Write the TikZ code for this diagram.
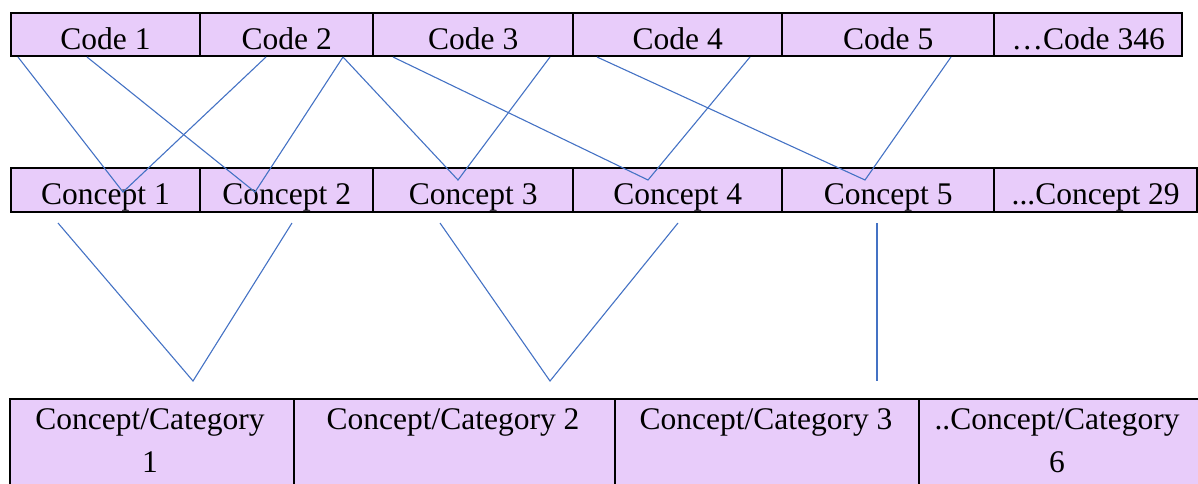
\documentclass[tikz,border=0pt]{standalone}
\usepackage{fontspec}
\setmainfont{Liberation Serif}
\definecolor{cellfill}{RGB}{232,204,250}
\definecolor{linkblue}{RGB}{68,114,196}
\begin{document}
\begin{tikzpicture}[x=1pt,y=-1pt,
  cell/.style={draw=black, line width=2.4pt, fill=cellfill, inner sep=0pt,
    anchor=north west, font=\fontsize{31.5}{43}\selectfont},
  rowa/.style={cell, minimum height=43, text height=36, text depth=7},
  rowb/.style={cell, minimum height=44, text height=36, text depth=8},
  rowc/.style={cell, minimum height=95},
  txt/.style={inner sep=0pt, anchor=north, align=center, font=\fontsize{31.5}{43}\selectfont},
  link/.style={draw=linkblue, line width=1.1pt}]
\useasboundingbox (0,0) rectangle (1198,483);
% row 1: codes
\node[rowa, minimum width=189.5] (code1) at (9.5,12) {Code 1};
\node[rowa, minimum width=173] (code2) at (199,12) {Code 2};
\node[rowa, minimum width=200] (code3) at (372,12) {Code 3};
\node[rowa, minimum width=209] (code4) at (572,12) {Code 4};
\node[rowa, minimum width=212] (code5) at (781,12) {Code 5};
\node[rowa, minimum width=188] (code6) at (993,12) {\ldots Code 346};
% row 2: concepts
\node[rowb, minimum width=189.5] (con1) at (9.5,167) {Concept 1};
\node[rowb, minimum width=173] (con2) at (199,167) {Concept 2};
\node[rowb, minimum width=200] (con3) at (372,167) {Concept 3};
\node[rowb, minimum width=209] (con4) at (572,167) {Concept 4};
\node[rowb, minimum width=212] (con5) at (781,167) {Concept 5};
\node[rowb, minimum width=203] (con6) at (993,167) {...Concept 29};
% row 3: categories
\node[rowc, minimum width=284] (cat1) at (9,398) {};
\node[rowc, minimum width=321] (cat2) at (293,398) {};
\node[rowc, minimum width=304] (cat3) at (614,398) {};
\node[rowc, minimum width=290] (cat4) at (918,398) {};
\node[txt] (tcat1) at (150,398) {\rule{0pt}{31pt}Concept/Category\\1};
\node[txt] (tcat2) at (453,398) {\rule{0pt}{31pt}Concept/Category 2};
\node[txt] (tcat3) at (766,398) {\rule{0pt}{31pt}Concept/Category 3};
\node[txt] (tcat4) at (1057,398) {\rule{0pt}{31pt}..Concept/Category\\6};
% connector end points
\coordinate (a1) at (18,57);
\coordinate (a2) at (87,57);
\coordinate (a3) at (266,57);
\coordinate (a4) at (343,57);
\coordinate (a5) at (393,57);
\coordinate (a6) at (550,57);
\coordinate (a7) at (597,57);
\coordinate (a8) at (750,57);
\coordinate (a9) at (951,57);
\coordinate (v1) at (123,192);
\coordinate (v2) at (255,192);
\coordinate (v3) at (458,180);
\coordinate (v4) at (648,180);
\coordinate (v5) at (865,180);
\coordinate (b1) at (58,223);
\coordinate (b2) at (292,223);
\coordinate (b3) at (440,223);
\coordinate (b4) at (678,223);
\coordinate (b5) at (877,223);
\coordinate (w1) at (193,381);
\coordinate (w2) at (550,381);
\coordinate (w3) at (877,381);
% upper links
\draw[link] (a1) -- (v1) -- (a3);
\draw[link] (a2) -- (v2) -- (a4);
\draw[link] (a4) -- (v3) -- (a6);
\draw[link] (a5) -- (v4) -- (a8);
\draw[link] (a7) -- (v5) -- (a9);
% lower links
\draw[link] (b1) -- (w1) -- (b2);
\draw[link] (b3) -- (w2) -- (b4);
\draw[link] (b5) -- (w3);
\end{tikzpicture}
\end{document}
